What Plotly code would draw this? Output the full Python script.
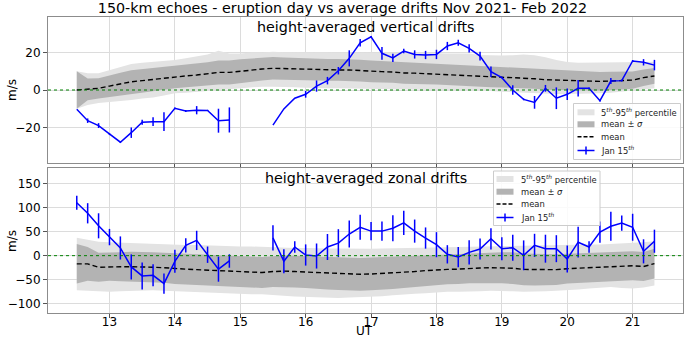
import plotly.graph_objects as go
from plotly.subplots import make_subplots

# ---------------- data ----------------
# UT hours, 10-minute steps from 12.5 to 21.333
ut = [12.5 + i / 6 for i in range(54)]

# vertical drifts (top panel)
mean_v = [0, 0.3, 0.9, 2.1, 3.2, 4.4, 5.0, 5.7, 6.2, 6.9, 7.5, 8.0, 8.5, 9.4, 9.4, 10.1, 10.7, 11.2,
          11.6, 11.4, 11.2, 11.0, 10.7, 10.7, 10.7, 10.7, 10.3, 10.0, 9.8, 9.6, 9.1, 9.0, 8.7, 8.5,
          8.2, 7.8, 7.5, 7.1, 6.9, 6.8, 6.6, 6.4, 6.0, 5.5, 5.3, 5.1, 4.8, 4.6, 4.6, 4.8, 5.0, 5.3,
          6.6, 7.5]
std_v = [10, 5.8, 5.4, 5.8, 6.0, 6.2, 6.2, 6.0, 6.0, 6.0, 6.1, 6.2, 6.3, 6.4, 6.4, 6.3, 6.2, 6.1,
         6.0, 6.0, 5.9, 5.9, 5.8, 5.8, 5.8, 5.8, 5.8, 5.8, 5.7, 5.7, 5.7, 5.6, 5.6, 5.6, 5.6, 5.5,
         5.5, 5.5, 5.4, 5.4, 5.4, 5.3, 5.3, 5.3, 5.2, 5.2, 5.1, 5.0, 5.0, 4.9, 4.8, 4.6, 4.4, 4.2]
p95_v = [10, 9, 9, 10.5, 12, 13.9, 14.5, 15, 15.5, 16, 17, 18, 19, 21, 19.5, 19.5, 20, 20, 20.4,
         20.2, 20, 20, 20, 20, 20, 20, 19.9, 19.9, 19.8, 19.8, 19.7, 19.7, 19.6, 19.6, 19.5, 19.5,
         19.5, 18.7, 18.5, 18.4, 18.6, 19.0, 18.5, 17.5, 16, 15, 14.6, 14.6, 14.8, 15, 15, 15, 15,
         15.1]
p5_v = [-10, -8, -7, -6.5, -6, -5.3, -4.5, -4, -3, -1.8, -1.5, -1, -0.5, 0, 0.5, 1, 1.5, 1.8, 1.8,
        1.8, 1.5, 1.2, 1.0, 1.0, 1.0, 0.9, 0.9, 0.9, 0.8, 0.7, 0.6, 0.5, 0.4, 0.3, 0.2, 0.1, 0,
        -0.3, -0.6, -0.9, -1.2, -1.5, -1.8, -2.0, -2.1, -2.1, -2.1, -2.0, -1.8, -1.5, -1.0, -0.5,
        0.3, 0.9]
jan15_v = [-10.3, -16.4, -19, -23.6, -27.9, -22.8, -17.2, -16.9, -16.9, -9.8, -11.2, -10.8, -10.9,
           -16.4, -16, None, None, None, -18.8, -10.1, -4.4, -2.3, 2.1, 5.0, 10.3, 16.9, 25.2,
           28.4, 19.6, 17.1, 20.8, 19.0, 18.7, 19.0, 23.5, 25.2, 22.2, 18.1, 9.8, 6.6, 0.0, -5.0,
           -6.6, 0.9, -4.4, -2.3, 0.9, 0.9, -5.7, 4.8, 5.0, 15.5, 14.8, 13.3]
jan15_v_err = [0, 1.2, 1.3, 0.5, 0.3, 2.8, 1.3, 2.3, 5, 0.5, 0.5, 2.2, 0.3, 6.4, 6.7, None, None,
               None, 0, 0, 0, 1.8, 3, 2, 2, 4.3, 2, 0.5, 3.4, 2.2, 1.2, 2.2, 2.2, 2.5, 2.2, 1.6,
               2.2, 2.4, 2.8, 0.5, 2.5, 0.5, 3.4, 1.8, 5.8, 3.1, 4.4, 0.5, 0.5, 1.6, 0.5, 0.5,
               1.7, 2.8]

# zonal drifts (bottom panel)
mean_z = [-17, -17, -24, -23, -23, -23, -23, -24, -25, -27, -28, -29, -30, -32, -33, -33, -34, -35,
          -33, -32, -33, -34, -35, -36, -37, -38, -38.6, -38, -37, -36, -34, -33, -31, -29, -28.5,
          -28, -26, -25.5, -25, -25, -26, -28.5, -29, -29, -29, -27, -26, -25, -24, -23, -22, -21,
          -22.5, -16.5]
std_z = [41, 35, 30, 29, 30, 31, 31, 31, 31, 32, 32, 32, 32, 32, 32, 32, 32, 32, 32, 33, 33, 33,
         34, 34, 34, 34, 34, 34, 34, 33, 33, 32, 32, 31, 31, 31, 31, 32, 32, 32, 33, 33, 33, 32,
         32, 31, 31, 30, 30, 30, 30, 30, 30, 31]
p95_z = [37, 33, 29, 28, 27, 26, 25, 25, 24, 23, 22, 22, 21, 20, 20, 19, 19, 18, 18, 17, 16, 16,
         15, 15, 15, 14.5, 14.5, 14.5, 15, 15.5, 16, 16.5, 17, 17.5, 18, 18, 18, 19, 19.5, 20,
         20.5, 21, 21, 21.5, 22, 22, 22.5, 23, 23, 24, 25, 26, 28, 30]
p5_z = [-72, -73, -75, -75, -74, -73, -72, -72, -73, -74, -75, -75, -76, -77, -78, -79, -80, -80,
        -81, -83, -85, -86, -87, -88, -88, -87, -86, -86, -84, -82, -80, -79, -78, -76, -75, -75,
        -75, -74, -73, -73, -74, -75, -75, -74, -73, -72, -70, -68, -66, -65, -67, -68, -66, -62]
jan15_z = [109.7, 88, 62, 38.6, 16, -23.4, -42, -40.7, -58, -11.7, 21.4, 31.7, 2, -28, -11, None,
           None, None, 37, -11.7, 18, 1.4, -0.7, 18, 26, 45, 59, 51, 51, 57, 68, 51, 36.6, 22.8,
           2.8, -2.8, 6.9, 13.8, 35, 14.5, 16.6, 0.7, 21.4, 14.5, 14.5, -6.9, 28, 18, 49, 61,
           67.6, 59, 9, 30]
jan15_z_err = [14.5, 21, 26, 17, 24, 26, 28, 23, 21, 24, 15, 20, 17, 26, 14, None, None, None, 26,
               25, 12, 22, 26, 27, 29, 28, 26, 19, 20, 27, 25, 24, 22, 26, 19, 21, 25, 22, 22,
               24, 27, 31, 24, 29, 28, 28, 32, 12, 22, 30, 16, 28, 25, 24]

x_ticks = [13, 14, 15, 16, 17, 18, 19, 20, 21]
title_text = "150-km echoes - eruption day vs average drifts Nov 2021- Feb 2022"
panel_titles = ["height-averaged vertical drifts", "height-averaged zonal drifts"]
leg_names = ["5<sup><i>th</i></sup>-95<sup><i>th</i></sup> percentile", "mean ± <i>σ</i>",
             "mean", "Jan 15<sup><i>th</i></sup>"]

# ---------------- figure ----------------
FONT = "DejaVu Sans"
LIGHT = "#e3e3e3"
DARK = "#b3b3b3"
BLUE = "#0000ff"
W, H = 685, 339
ML, MR, MT, MB = 48, 2, 17, 26
PW, PH = W - ML - MR, H - MT - MB

fig = make_subplots(rows=2, cols=1, shared_xaxes=True, vertical_spacing=0.017)


def add_panel(row, mean, std, p95, p5, jan, jan_err):
    lo = [m - s for m, s in zip(mean, std)]
    hi = [m + s for m, s in zip(mean, std)]
    fig.add_trace(go.Scatter(x=ut, y=p5, mode="lines", line=dict(width=0), showlegend=False,
                             hoverinfo="skip"), row=row, col=1)
    fig.add_trace(go.Scatter(x=ut, y=p95, mode="lines", line=dict(width=0), fill="tonexty",
                             fillcolor=LIGHT, showlegend=False), row=row, col=1)
    fig.add_trace(go.Scatter(x=ut, y=lo, mode="lines", line=dict(width=0), showlegend=False,
                             hoverinfo="skip"), row=row, col=1)
    fig.add_trace(go.Scatter(x=ut, y=hi, mode="lines", line=dict(width=0), fill="tonexty",
                             fillcolor=DARK, showlegend=False), row=row, col=1)
    fig.add_trace(go.Scatter(x=ut, y=mean, mode="lines",
                             line=dict(color="black", width=1.4, dash="5px,3px"),
                             showlegend=False), row=row, col=1)
    fig.add_trace(go.Scatter(x=ut, y=jan, mode="lines", line=dict(color=BLUE, width=1.5),
                             connectgaps=False, showlegend=False,
                             error_y=dict(type="data", array=jan_err, visible=True,
                                          color=BLUE, thickness=1.5, width=0)),
                  row=row, col=1)
    fig.add_hline(y=0, line=dict(color="green", width=1, dash="dot"), row=row, col=1)


add_panel(1, mean_v, std_v, p95_v, p5_v, jan15_v, jan15_v_err)
add_panel(2, mean_z, std_z, p95_z, p5_z, jan15_z, jan15_z_err)


# ---------------- custom matplotlib-like legends ----------------
def px_x(px):
    return (px - ML) / PW


def px_y(py):
    return (H - MB - py) / PH


def draw_legend(box, rows, sw, tx):
    x0, y0, x1, y1 = box
    fig.add_shape(type="rect", xref="paper", yref="paper", x0=px_x(x0), x1=px_x(x1),
                  y0=px_y(y1), y1=px_y(y0), fillcolor="rgba(255,255,255,0.85)",
                  line=dict(color="#cccccc", width=1), layer="above")
    s0, s1 = sw
    for i, (ry, name) in enumerate(zip(rows, leg_names)):
        if i < 2:
            fig.add_shape(type="rect", xref="paper", yref="paper", x0=px_x(s0), x1=px_x(s1),
                          y0=px_y(ry + 3), y1=px_y(ry - 3),
                          fillcolor=[LIGHT, DARK][i], line=dict(width=0), layer="above")
        elif i == 2:
            fig.add_shape(type="line", xref="paper", yref="paper", x0=px_x(s0), x1=px_x(s1),
                          y0=px_y(ry), y1=px_y(ry),
                          line=dict(color="black", width=1.4, dash="4px,2px"), layer="above")
        else:
            fig.add_shape(type="line", xref="paper", yref="paper", x0=px_x(s0), x1=px_x(s1),
                          y0=px_y(ry), y1=px_y(ry), line=dict(color=BLUE, width=1.5),
                          layer="above")
            xm = (s0 + s1) / 2
            fig.add_shape(type="line", xref="paper", yref="paper", x0=px_x(xm), x1=px_x(xm),
                          y0=px_y(ry - 4), y1=px_y(ry + 4), line=dict(color=BLUE, width=1.5),
                          layer="above")
        fig.add_annotation(text=name, xref="paper", yref="paper", x=px_x(tx), y=px_y(ry),
                           xanchor="left", yanchor="middle", showarrow=False,
                           font=dict(family=FONT, size=8.4, color="#222222"))


draw_legend((573.5, 103.5, 680.5, 159.5), [112.3, 124.3, 136.7, 150.5], (577.5, 594.5), 599)
draw_legend((493.5, 171.0, 600.0, 225.5), [179.0, 191.7, 204.0, 217.5], (496.5, 513.5), 519)

axis_common = dict(showgrid=True, gridcolor="#dcdcdc", gridwidth=1, showline=True,
                   linecolor="#8c8c8c", linewidth=1, mirror=True, ticks="outside",
                   ticklen=4, tickcolor="#555555", zeroline=False,
                   tickfont=dict(family=FONT, size=12, color="black"))

fig.update_xaxes(range=[12.06, 21.77], tickvals=x_ticks, **axis_common)
fig.update_xaxes(showticklabels=False, row=1, col=1)
fig.update_xaxes(ticklabelstandoff=-6, row=2, col=1)
fig.update_yaxes(range=[-39, 39], tickvals=[-20, 0, 20], row=1, col=1, **axis_common)
fig.update_yaxes(range=[-119, 182], tickvals=[-100, -50, 0, 50, 100, 150], row=2, col=1,
                 **axis_common)

fig.update_layout(yaxis=dict(domain=[px_y(163), 1.0]), yaxis2=dict(domain=[0.0, px_y(168)]))

fig.update_layout(
    width=W, height=H,
    margin=dict(l=ML, r=MR, t=MT, b=MB, autoexpand=False),
    paper_bgcolor="white", plot_bgcolor="white",
    font=dict(family=FONT, color="black"),
    showlegend=False,
    hovermode=False,
    title=dict(text=title_text, x=0.5, xanchor="center", xref="container",
               y=1 - 7.5 / H, yanchor="middle", yref="container",
               font=dict(family=FONT, size=14.3, color="black")),
)

# panel titles
fig.add_annotation(text=panel_titles[0], xref="x domain", yref="y domain", x=0.5, y=0.93,
                   xanchor="center", yanchor="middle", showarrow=False,
                   font=dict(family=FONT, size=14.3, color="black"))
fig.add_annotation(text=panel_titles[1], xref="x2 domain", yref="y2 domain", x=0.5, y=0.93,
                   xanchor="center", yanchor="middle", showarrow=False,
                   font=dict(family=FONT, size=14.3, color="black"))
# axis labels
for yc in [px_y(90), px_y(241)]:
    fig.add_annotation(text="m/s", xref="paper", yref="paper", x=px_x(12), y=yc,
                       textangle=-90, xanchor="center", yanchor="middle", showarrow=False,
                       font=dict(family=FONT, size=12, color="black"))
fig.add_annotation(text="UT", xref="paper", yref="paper", x=px_x(364), y=px_y(339),
                   xanchor="center", yanchor="bottom", showarrow=False, borderpad=0,
                   font=dict(family=FONT, size=12, color="black"))

fig.write_html("out.html", config={"displayModeBar": False},
               post_script="document.body.style.margin='0px';document.body.style.padding='0px';")
